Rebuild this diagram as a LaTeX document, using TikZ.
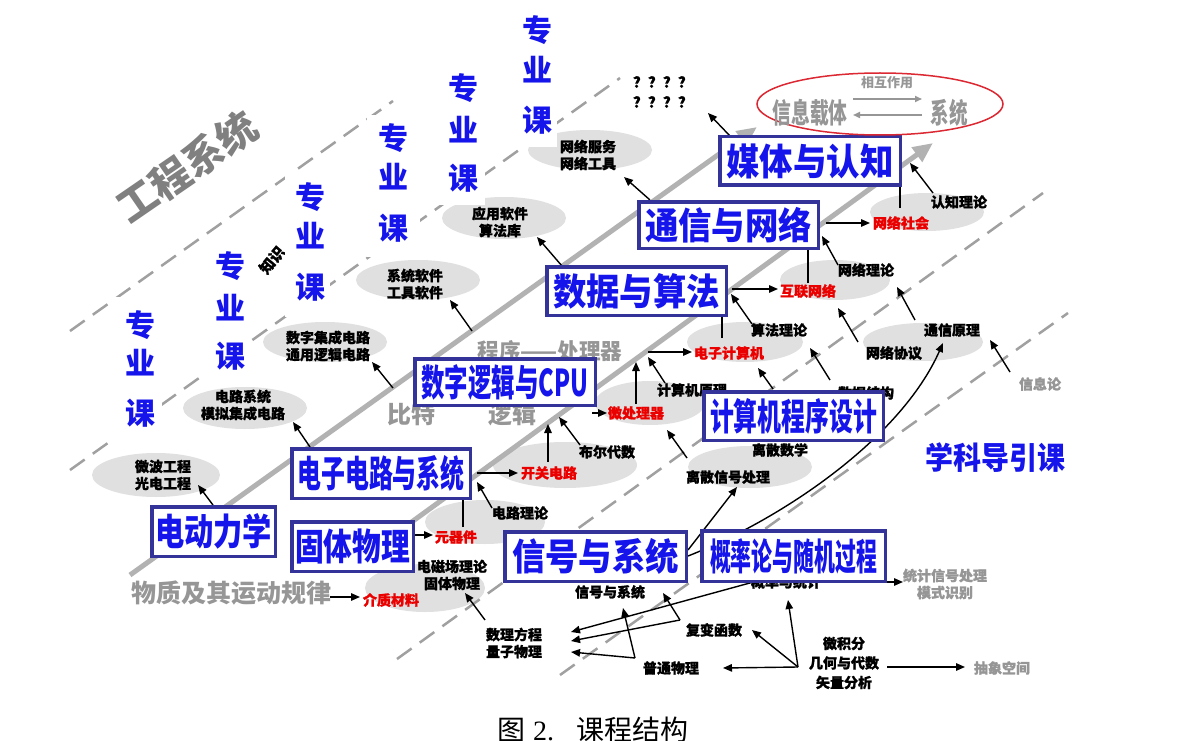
\documentclass[tikz,border=0pt]{standalone}
\usepackage{fontspec}
\usepackage{graphicx}
\usetikzlibrary{arrows.meta}
\newfontfamily\cjk{Noto Sans CJK SC}
\newfontfamily\cjkh{Noto Sans CJK SC}[BoldFeatures={FakeBold=1.2}]
\newfontfamily\serifL{Liberation Serif}
\definecolor{boxc}{RGB}{51,51,153}
\definecolor{blueT}{RGB}{20,20,235}
\definecolor{blobg}{RGB}{224,224,224}
\definecolor{lineg}{RGB}{178,178,178}
\definecolor{dashg}{RGB}{160,160,160}
\definecolor{txtg}{RGB}{150,150,150}
\definecolor{gdark}{RGB}{128,128,128}
\definecolor{redT}{RGB}{235,0,0}
\definecolor{ellR}{RGB}{220,40,50}
\newcommand{\hs}[2]{\resizebox{#1}{\height}{#2}}
\begin{document}
\begin{tikzpicture}[x=1pt,y=-1pt]
\tikzset{
 blob/.style={fill=blobg, draw=none},
 dline/.style={draw=dashg, line width=2.5pt, dash pattern=on 18pt off 10pt},
 gline/.style={draw=lineg, line width=5pt, -{Triangle[length=20pt,width=17pt]}},
 ar/.style={draw=black, line width=1.4pt, -{Triangle[length=9pt,width=7.5pt]}},
 pl/.style={draw=black, line width=1.4pt},
 garr/.style={draw=txtg, line width=1.6pt, -{Triangle[length=7pt,width=6pt]}},
 lab/.style={font=\cjkh\bfseries\fontsize{14}{17}\selectfont, align=center, inner sep=0pt, text=black},
 rlab/.style={lab, text=redT},
 glab/.style={lab, text=txtg},
 gbig/.style={font=\cjk\bfseries\fontsize{#1}{#1}\selectfont, text=txtg, inner sep=0pt},
 mbox/.style={draw=boxc, line width=3.5pt, fill=white, inner sep=0pt, text=blueT, font=\cjk\bfseries\fontsize{37}{37}\selectfont},
 zy/.style={font=\cjk\bfseries\fontsize{30}{30}\selectfont, text=blueT, inner sep=0pt},
}
\useasboundingbox (0,0) rectangle (1192,741);
\fill[white] (0,0) rectangle (1192,741);

% ---- light grey blobs
\fill[blob] (590,150) ellipse [x radius=62, y radius=20];
\fill[blob] (504,218) ellipse [x radius=62, y radius=21];
\fill[blob] (418,280) ellipse [x radius=62, y radius=20];
\fill[blob] (325,342) ellipse [x radius=62, y radius=20];
\fill[blob] (245,408) ellipse [x radius=62, y radius=21];
\fill[blob] (156,475) ellipse [x radius=64, y radius=22];
\fill[blob] (927,212) ellipse [x radius=57, y radius=19];
\fill[blob] (835,280) ellipse [x radius=55, y radius=20];
\fill[blob] (745,342) ellipse [x radius=58, y radius=20];
\fill[blob] (923,342) ellipse [x radius=60, y radius=19];
\fill[blob] (650,403) ellipse [x radius=55, y radius=22];
\fill[blob] (565,465) ellipse [x radius=72, y radius=23];
\fill[blob] (750,467) ellipse [x radius=62, y radius=21];
\fill[blob] (485,522) ellipse [x radius=60, y radius=22];
\fill[blob] (425,588) ellipse [x radius=60, y radius=24];

% ---- dashed diagonals
\coordinate (d1a) at (70,331);  \coordinate (d1b) at (393,101);
\coordinate (d2a) at (70,470);  \coordinate (d2b) at (620,78);
\coordinate (d3a) at (397,659); \coordinate (d3b) at (1043,193);
\coordinate (d4a) at (560,675); \coordinate (d4b) at (1068,313);
\draw[dline] (d1a) -- (d1b);
\draw[dline] (d2a) -- (d2b);
\draw[dline] (d3a) -- (d3b);
\draw[dline] (d4a) -- (d4b);

% ---- partly hidden text
\node[lab, font=\cjkh\bfseries\fontsize{15}{15}\selectfont, rotate=50] (zs) at (272,260) {知识};

% ---- columns
\fill[white] (113,297) rectangle (162,443);
\fill[white] (203,245) rectangle (250,385);
\fill[white] (285,170) rectangle (330,317);
\fill[white] (367,115) rectangle (420,257);
\fill[white] (437,62) rectangle (485,205);
\fill[white] (510,2) rectangle (557,147);
\node[zy] (z1a) at (140,325) {专}; \node[zy] (z1b) at (140,363) {业}; \node[zy] (z1c) at (140,413) {课};
\node[zy] (z2a) at (230,266) {专}; \node[zy] (z2b) at (230,308) {业}; \node[zy] (z2c) at (230,356) {课};
\node[zy] (z3a) at (310,197) {专}; \node[zy] (z3b) at (310,236) {业}; \node[zy] (z3c) at (310,287) {课};
\node[zy] (z4a) at (393,138) {专}; \node[zy] (z4b) at (393,177) {业}; \node[zy] (z4c) at (393,228) {课};
\node[zy] (z5a) at (463,88) {专};  \node[zy] (z5b) at (463,130) {业}; \node[zy] (z5c) at (463,178) {课};
\node[zy] (z6a) at (537,30) {专};  \node[zy] (z6b) at (537,70) {业};  \node[zy] (z6c) at (537,120) {课};

% ---- thick grey axes
\coordinate (l1a) at (130,575); \coordinate (l1b) at (757,127);
\coordinate (l2a) at (380,545); \coordinate (l2b) at (933,143);
\draw[gline] (l1a) -- (l1b);
\draw[gline] (l2a) -- (l2b);

% ---- grey big texts
\node[gbig=22] (cxclq) at (550,351) {\hs{145pt}{程序——处理器}};
\node[gbig=24] (bt) at (411,414) {比特};
\node[gbig=24] (lj) at (512,414) {逻辑};
\node[gbig=25] (wz) at (231,593) {物质及其运动规律};

% ---- labels
\node[lab, font=\cjkh\bfseries\fontsize{15}{20}\selectfont] (qm) at (663,92) {？？？？\\？？？？};
\node[lab] (wlfw) at (588,155) {网络服务\\网络工具};
\node[lab] (yyrj) at (500,222) {应用软件\\算法库};
\node[lab] (xtrj) at (415,284) {系统软件\\工具软件};
\node[lab] (szjc) at (328,346) {数字集成电路\\通用逻辑电路};
\node[lab] (dlxt) at (243,405) {电路系统\\模拟集成电路};
\node[lab] (wbgc) at (163,475) {微波工程\\光电工程};
\node[rlab] (wlsh) at (901,223) {网络社会};
\node[lab] (rzll) at (959,202) {认知理论};
\node[rlab] (hlwl) at (808,291) {互联网络};
\node[lab] (wlll) at (866,270) {网络理论};
\node[lab] (sfll) at (779,330) {算法理论};
\node[rlab] (dzjsj) at (729,353) {电子计算机};
\node[lab] (txyl) at (952,330) {通信原理};
\node[lab] (wlxy) at (894,353) {网络协议};
\node[glab] (xxl) at (1040,384) {信息论};
\node[lab] (sjjg) at (866,393) {数据结构};
\node[lab] (jsjyl) at (692,390) {计算机原理};
\node[rlab] (wclq) at (636,413) {微处理器};
\node[lab] (beds) at (607,452) {布尔代数};
\node[rlab] (kgdl) at (549,473) {开关电路};
\node[lab] (dlll) at (520,513) {电路理论};
\node[rlab] (yqj) at (456,537) {元器件};
\node[lab] (dcc) at (452,575) {电磁场理论\\固体物理};
\node[rlab] (jzcl) at (391,600) {介质材料};
\node[lab] (lssx) at (780,450) {离散数学};
\node[lab] (lsxh) at (728,477) {离散信号处理};
\node[lab] (slfc) at (514,643) {数理方程\\量子物理};
\node[lab] (xhxt) at (610,592) {信号与系统};
\node[lab] (gltj) at (786,582) {概率与统计};
\node[lab] (fbhs) at (714,630) {复变函数};
\node[lab] (ptwl) at (671,668) {普通物理};
\node[lab, font=\cjkh\bfseries\fontsize{14}{19.5}\selectfont] (wjf) at (844,663) {微积分\\几何与代数\\矢量分析};
\node[glab] (tjxh) at (945,584) {统计信号处理\\模式识别};
\node[glab] (cxkj) at (1002,668) {抽象空间};

% ---- arrows (start / end coordinates)
\coordinate (a1s) at (730,136);  \coordinate (a1e) at (708,113);
\coordinate (a2s) at (650,200);  \coordinate (a2e) at (624,177);
\coordinate (a3s) at (562,266);  \coordinate (a3e) at (537,237);
\coordinate (a4s) at (472,331);  \coordinate (a4e) at (450,300);
\coordinate (a5s) at (393,388);  \coordinate (a5e) at (372,362);
\coordinate (a6s) at (310,447);  \coordinate (a6e) at (293,422);
\coordinate (a7s) at (213,505);  \coordinate (a7e) at (198,485);
\coordinate (a8s) at (933,193);  \coordinate (a8e) at (910,163);
\coordinate (a9s) at (826,223);  \coordinate (a9e) at (870,223);
\coordinate (p9s) at (900,208);  \coordinate (p9e) at (900,187);
\coordinate (p10s) at (808,283); \coordinate (p10e) at (808,250);
\coordinate (a11s) at (838,265); \coordinate (a11e) at (822,236);
\coordinate (a12s) at (732,289); \coordinate (a12e) at (778,289);
\coordinate (p13s) at (722,338); \coordinate (p13e) at (722,317);
\coordinate (a14s) at (752,324); \coordinate (a14e) at (731,294);
\coordinate (a15s) at (648,352); \coordinate (a15e) at (692,352);
\coordinate (a16s) at (636,404); \coordinate (a16e) at (636,362);
\coordinate (a17s) at (665,383); \coordinate (a17e) at (648,357);
\coordinate (a18s) at (830,380); \coordinate (a18e) at (810,348);
\coordinate (a19s) at (773,389); \coordinate (a19e) at (758,368);
\coordinate (a20s) at (858,342); \coordinate (a20e) at (838,308);
\coordinate (a21s) at (915,320); \coordinate (a21e) at (897,287);
\coordinate (a22s) at (1010,372); \coordinate (a22e) at (990,340);
\coordinate (c23s) at (688,556); \coordinate (c23e) at (943,343);
\coordinate (a24s) at (688,550); \coordinate (a24e) at (737,487);
\coordinate (wjfo) at (798,667); \coordinate (wjfr) at (887,667);
\coordinate (b1e) at (752,630);  \coordinate (b2e) at (788,600);
\coordinate (b3e) at (723,668);  \coordinate (b4e) at (965,667);
\coordinate (fbo) at (680,620);  \coordinate (pto) at (635,658);
\coordinate (b5e) at (663,593);  \coordinate (b6e) at (571,641);
\coordinate (b7e) at (623,608);  \coordinate (b8e) at (571,652);
\coordinate (b9s) at (790,572);  \coordinate (b9e) at (571,632);
\coordinate (b10s) at (485,620); \coordinate (b10e) at (465,593);
\coordinate (b11s) at (415,535); \coordinate (b11e) at (433,535);
\coordinate (b12s) at (330,597); \coordinate (b12e) at (360,597);
\coordinate (p14s) at (463,527); \coordinate (p14e) at (463,500);
\coordinate (b13s) at (492,508); \coordinate (b13e) at (477,482);
\coordinate (b14s) at (477,473); \coordinate (b14e) at (518,473);
\coordinate (b15s) at (548,462); \coordinate (b15e) at (548,424);
\coordinate (b16s) at (580,445); \coordinate (b16e) at (559,417);
\coordinate (b17s) at (592,413); \coordinate (b17e) at (607,413);
\coordinate (b18s) at (687,458); \coordinate (b18e) at (667,430);
\coordinate (b19s) at (885,582); \coordinate (b19e) at (903,582);

\foreach \n in {a1,a2,a3,a4,a5,a6,a7,a8,a9,a11,a12,a14,a15,a16,a17,a18,a19,a20,a21,a22,a24,b9,b10,b11,b12,b13,b14,b15,b16,b17,b18,b19}
  \draw[ar] (\n s) -- (\n e);
\draw[pl] (p9s) -- (p9e);
\draw[pl] (p10s) -- (p10e);
\draw[pl] (p13s) -- (p13e);
\draw[pl] (p14s) -- (p14e);
\draw[ar] (c23s) .. controls (780,520) and (900,440) .. (c23e);
\draw[ar] (wjfo) -- (b1e);
\draw[ar] (wjfo) -- (b2e);
\draw[ar] (wjfo) -- (b3e);
\draw[ar] (wjfr) -- (b4e);
\draw[ar] (fbo) -- (b5e);
\draw[ar] (fbo) -- (b6e);
\draw[ar] (pto) -- (b7e);
\draw[ar] (pto) -- (b8e);

% ---- main boxes
\node[mbox, minimum width=180.5, minimum height=48.5] (mt) at (810,161) {\hs{167pt}{媒体与认知}};
\node[mbox, minimum width=179.5, minimum height=46.5] (tx) at (728.5,225) {\hs{167pt}{通信与网络}};
\node[mbox, minimum width=179.5, minimum height=48.5] (sj) at (636.5,291) {\hs{167pt}{数据与算法}};
\node[mbox, minimum width=180.5, minimum height=46.5] (sz) at (505,382) {\hs{167pt}{数字逻辑与CPU}};
\node[mbox, minimum width=179.5, minimum height=48.5] (jsj) at (793.5,416) {\hs{167pt}{计算机程序设计}};
\node[mbox, minimum width=178.5, minimum height=49.5] (dz) at (381,473.5) {\hs{167pt}{电子电路与系统}};
\node[mbox, minimum width=123.5, minimum height=49.5] (ddl) at (213.5,531.5) {\hs{117pt}{电动力学}};
\node[mbox, minimum width=121.5, minimum height=49.5] (gt) at (352.5,546.5) {\hs{115pt}{固体物理}};
\node[mbox, minimum width=181.5, minimum height=49.5] (xh) at (595.5,556.5) {\hs{167pt}{信号与系统}};
\node[mbox, minimum width=183.5, minimum height=50.5] (gl) at (793.5,556) {\hs{167pt}{概率论与随机过程}};

% ---- top ellipse
\draw[ellR, line width=1.5pt] (880,104) ellipse [x radius=123, y radius=31];
\node[gbig=28] (xxzt) at (810,113) {\hs{75pt}{信息载体}};
\node[gbig=28] (xt) at (949,113) {\hs{37pt}{系统}};
\node[glab, font=\cjk\bfseries\fontsize{13}{13}\selectfont] (xhzy) at (887,83) {相互作用};
\coordinate (e1s) at (853,99);  \coordinate (e1e) at (922,99);
\coordinate (e2s) at (922,115); \coordinate (e2e) at (853,115);
\draw[garr] (e1s) -- (e1e);
\draw[garr] (e2s) -- (e2e);

% ---- titles
\node[font=\cjk\bfseries\fontsize{40}{40}\selectfont, text=gdark, rotate=34.5, inner sep=0pt] (gcxt) at (187,167) {工程系统};
\node[font=\cjk\bfseries\fontsize{31}{31}\selectfont, text=blueT, inner sep=0pt] (xkdy) at (995,458) {\hs{140pt}{学科导引课}};
\node[font=\cjk\fontsize{28}{28}\selectfont, anchor=base west, inner sep=0pt] (cap) at (497,740) {图\hspace{8pt}{\serifL 2.}\hspace{22pt}课程结构};
\end{tikzpicture}
\end{document}
